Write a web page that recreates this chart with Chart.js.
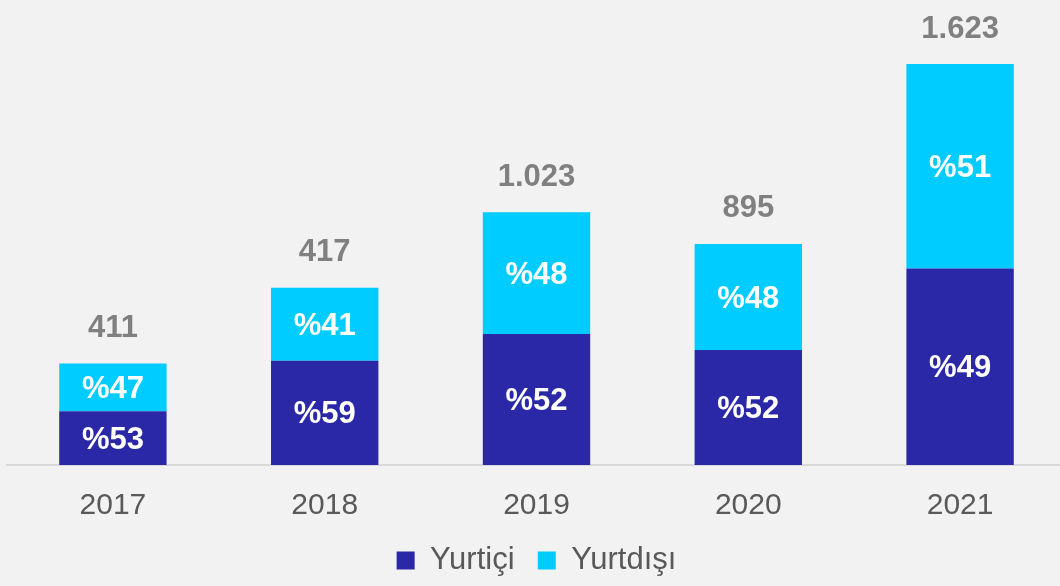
<!DOCTYPE html>
<html>
<head>
<meta charset="utf-8">
<script src="https://cdn.jsdelivr.net/npm/chart.js@4/dist/chart.umd.min.js"></script>
<style>
  html, body { margin: 0; padding: 0; background: #f2f2f2; overflow: hidden; }
  #wrap { position: absolute; left: 0; top: 0; width: 1068px; height: 586px; }
</style>
</head>
<body>
<div id="wrap"><canvas id="myChart"></canvas></div>
<script>
// values
const years = ['2017', '2018', '2019', '2020', '2021'];
const yurtici = [218, 422, 530, 465, 795];
const yurtdisi = [193, 295, 493, 430, 828];
const yurticiPct = ['%53', '%59', '%52', '%52', '%49'];
const yurtdisiPct = ['%47', '%41', '%48', '%48', '%51'];
const totalLabels = ['411', '417', '1.023', '895', '1.623'];

const FONT = '"Liberation Sans", Arial, sans-serif';

// draws the percentages inside the bars and the totals above them
const barLabels = {
  id: 'barLabels',
  afterDatasetsDraw(chart) {
    const ctx = chart.ctx;
    ctx.save();
    ctx.textAlign = 'center';
    ctx.textBaseline = 'middle';
    ctx.font = 'bold 31px ' + FONT;
    ctx.fillStyle = '#ffffff';
    chart.data.datasets.forEach((ds, di) => {
      const meta = chart.getDatasetMeta(di);
      meta.data.forEach((bar, i) => {
        const mid = (bar.y + bar.base) / 2;
        ctx.fillText(ds.pctLabels[i], bar.x, mid + 2);
      });
    });
    const top = chart.getDatasetMeta(chart.data.datasets.length - 1);
    ctx.fillStyle = '#808080';
    top.data.forEach((bar, i) => {
      ctx.fillText(totalLabels[i], bar.x, bar.y - 35);
    });
    ctx.restore();
  }
};

const ctx = document.getElementById('myChart').getContext('2d');
new Chart(ctx, {
  type: 'bar',
  data: {
    labels: years,
    datasets: [
      {
        label: 'Yurtiçi',
        data: yurtici,
        pctLabels: yurticiPct,
        backgroundColor: '#2a28a6',
        borderWidth: 0
      },
      {
        label: 'Yurtdışı',
        data: yurtdisi,
        pctLabels: yurtdisiPct,
        backgroundColor: '#00ccff',
        borderWidth: 0
      }
    ]
  },
  options: {
    responsive: true,
    maintainAspectRatio: false,
    animation: false,
    layout: { padding: { left: 7, right: 2, top: 44, bottom: 0 } },
    datasets: { bar: { barPercentage: 0.507, categoryPercentage: 1 } },
    scales: {
      x: {
        stacked: true,
        grid: { display: false },
        border: { display: true, color: '#d9d9d9', width: 2 },
        ticks: { color: '#595959', font: { family: FONT, size: 30 }, padding: 15 }
      },
      y: {
        stacked: true,
        display: false,
        min: 0,
        max: 1704
      }
    },
    plugins: {
      legend: {
        position: 'bottom',
        labels: {
          color: '#595959',
          font: { family: FONT, size: 31 },
          boxWidth: 18,
          boxHeight: 18,
          padding: 6,
          // a bit more room between the two items
          generateLabels(chart) {
            const items = Chart.defaults.plugins.legend.labels.generateLabels(chart);
            items.forEach((it, i) => {
              it.lineWidth = 0;
              if (i < items.length - 1) it.text = it.text + '  ';
            });
            return items;
          }
        }
      },
      tooltip: { enabled: false }
    }
  },
  plugins: [barLabels]
});
</script>
</body>
</html>
